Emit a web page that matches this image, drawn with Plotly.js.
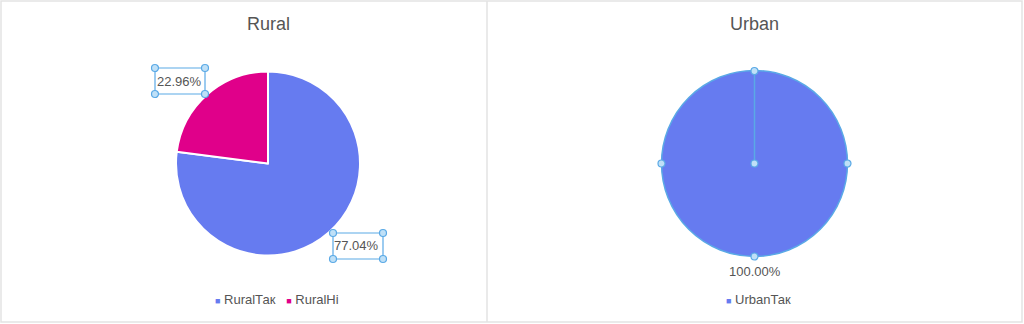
<!DOCTYPE html>
<html>
<head>
<meta charset="utf-8">
<script src="https://cdn.plot.ly/plotly-3.0.1.min.js"></script>
<style>html,body{margin:0;padding:0;background:#fff;}#chart{width:1024px;height:324px;}</style>
</head>
<body>
<div id="chart"></div>
<script>
const ruralLabels = ["RuralТак", "RuralНі"];
const ruralValues = [77.04, 22.96];
const urbanLabels = ["UrbanТак"];
const urbanValues = [100];
const sliceColors = ["#667BF0", "#E0008A"];
const chartTitles = ["Rural", "Urban"];

const W = 1024, H = 324;
const px = x => x / W;
const py = y => 1 - y / H;
const FAM = "Liberation Sans, Arial, sans-serif";
const font = {family: FAM, size: 13, color: "#555"};

// pie geometry (pixels)
const pies = [
  {labels: ruralLabels, values: ruralValues, cx: 268, cy: 163.5, r: 92, legend: 277, title: chartTitles[0], line: {color: "#fff", width: 2}},
  {labels: urbanLabels, values: urbanValues, cx: 754.5, cy: 163.5, r: 93, legend: 758, title: chartTitles[1], line: {color: "#5AA9E6", width: 1.5}}
];

const traces = [];
const annotations = [];
pies.forEach(p => {
  traces.push({
    type: "pie", labels: p.labels, values: p.values,
    sort: false, direction: "clockwise", rotation: 0,
    marker: {colors: sliceColors.slice(0, p.values.length), line: p.line},
    textinfo: "none", showlegend: false,
    domain: {x: [px(p.cx - p.r), px(p.cx + p.r)], y: [py(p.cy + p.r), py(p.cy - p.r)]},
    hoverinfo: "label+value+percent"
  });
  // outside percent labels, placed from data angles
  const total = p.values.reduce((a, b) => a + b, 0);
  let cum = 0;
  p.values.forEach(v => {
    const mid = (cum + v / 2) / total * 2 * Math.PI;
    cum += v;
    const d = p.r + 5;
    const sx = Math.sin(mid), cy = -Math.cos(mid);
    const ax = p.cx + d * sx, ay = p.cy + d * cy;
    annotations.push({
      text: (v / total * 100).toFixed(2) + "%",
      xref: "paper", yref: "paper", x: px(ax), y: py(ay),
      xanchor: Math.abs(sx) < 0.2 ? "center" : (sx > 0 ? "left" : "right"),
      yanchor: Math.abs(cy) < 0.2 ? "middle" : (cy > 0 ? "top" : "bottom"),
      showarrow: false, font: {family: FAM, size: 13, color: "#555"}
    });
  });
  // title
  annotations.push({text: p.title, xref: "paper", yref: "paper", x: px(p.cx), y: py(24), xanchor: "center", yanchor: "middle", showarrow: false, font: {family: FAM, size: 18, color: "#555"}});
  // legend row
  const items = p.labels.map((l, i) => "<span style='color:" + sliceColors[i] + ";font-size:9px'>■</span> " + l);
  annotations.push({text: items.join("   "), xref: "paper", yref: "paper", x: px(p.legend), y: py(299), xanchor: "center", yanchor: "middle", showarrow: false, font: font});
});

const sel = "#5AA9E6";
const shapes = [
  {type: "rect", xref: "paper", yref: "paper", x0: px(1), x1: px(1022), y0: py(322), y1: py(1), line: {color: "#E3E3E3", width: 1.5}},
  {type: "line", xref: "paper", yref: "paper", x0: px(487), x1: px(487), y0: py(322), y1: py(1), line: {color: "#E3E3E3", width: 1.5}}
];
function handle(x, y) {
  shapes.push({type: "circle", xref: "paper", yref: "paper", x0: px(x - 3.5), x1: px(x + 3.5), y0: py(y + 3.5), y1: py(y - 3.5), fillcolor: "#BFE0F7", line: {color: sel, width: 1.2}});
}
function box(x0, y0, x1, y1) {
  shapes.push({type: "rect", xref: "paper", yref: "paper", x0: px(x0), x1: px(x1), y0: py(y1), y1: py(y0), line: {color: sel, width: 1.2}});
  [[x0, y0], [x1, y0], [x0, y1], [x1, y1]].forEach(p => handle(p[0], p[1]));
}
box(155, 68, 205, 94);
box(333, 233, 383, 259);
shapes.push({type: "line", xref: "paper", yref: "paper", x0: px(754.5), x1: px(754.5), y0: py(163.5), y1: py(71), line: {color: sel, width: 1.5}});
handle(754.5, 71); handle(754.5, 256.5); handle(661.5, 163.5); handle(847.5, 163.5); handle(754.5, 163.5);

const layout = {
  width: W, height: H,
  margin: {l: 0, r: 0, t: 0, b: 0},
  paper_bgcolor: "#fff",
  font: font,
  showlegend: false,
  annotations: annotations,
  shapes: shapes
};
Plotly.newPlot("chart", traces, layout, {displayModeBar: false, staticPlot: true});
</script>
</body>
</html>
